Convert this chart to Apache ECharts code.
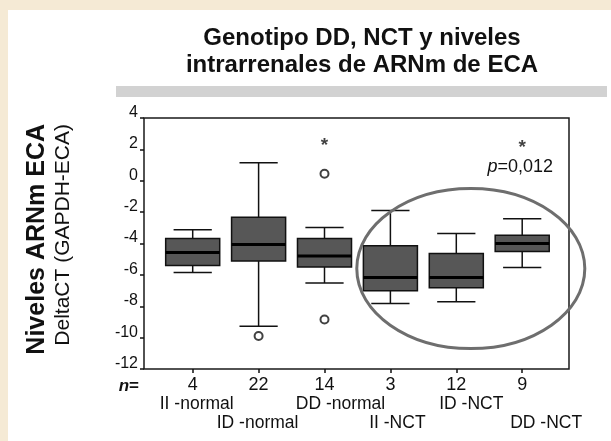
<!DOCTYPE html>
<html>
<head>
<meta charset="utf-8">
<script src="https://cdn.jsdelivr.net/npm/echarts@6/dist/echarts.min.js"></script>
<style>
html, body { margin: 0; padding: 0; background: #f5ead5; }
#chart { width: 611px; height: 441px; }
</style>
</head>
<body>
<div id="chart"></div>
<script>
// datos
var categories = ['II -normal', 'ID -normal', 'DD -normal', 'II -NCT', 'ID -NCT', 'DD -NCT'];
var counts = [4, 22, 14, 3, 12, 9];
var whiskerLow = [-5.85, -9.27, -6.52, -7.82, -7.71, -5.53];
var q1 = [-5.41, -5.12, -5.5, -7.01, -6.82, -4.51];
var medians = [-4.57, -4.06, -4.8, -6.16, -6.16, -4.0];
var q3 = [-3.68, -2.32, -3.68, -4.14, -4.63, -3.47];
var whiskerHigh = [-3.12, 1.15, -2.98, -1.89, -3.36, -2.42];
var outliers = [[1, -9.9], [2, 0.45], [2, -8.84]];
var extremes = [[2, 2.56], [5, 2.44]];
var yMin = -12, yMax = 4, yStep = 2;
var pText = '=0,012';

var font = "'Liberation Sans', Arial, Helvetica, sans-serif";
// desplazamiento horizontal de cada nombre de grupo (px)
var nameShift = [4, -1, 16, 7, 15, 24];

var chart = echarts.init(document.getElementById('chart'));

var rich = {
	n: { fontSize: 18, lineHeight: 19, color: '#111', fontFamily: font },
	e: { fontSize: 17, lineHeight: 19, fontFamily: font }
};
nameShift.forEach(function (s, i) {
	rich['c' + i] = {
		fontSize: 17.5, lineHeight: 19, color: '#111', fontFamily: font,
		padding: s >= 0 ? [0, 0, 0, 2 * s] : [0, -2 * s, 0, 0]
	};
});

var boxData = categories.map(function (c, i) {
	return [i, whiskerLow[i], q1[i], medians[i], q3[i], whiskerHigh[i]];
});

function renderBox(params, api) {
	var i = api.value(0);
	var lo = api.coord([i, api.value(1)]);
	var b = api.coord([i, api.value(2)]);
	var m = api.coord([i, api.value(3)]);
	var t = api.coord([i, api.value(4)]);
	var hi = api.coord([i, api.value(5)]);
	var band = api.size([1, 0])[0];
	var bw = band * 0.82, cw = band * 0.58;
	var x = lo[0];
	var ls = { stroke: '#111', lineWidth: 1.5 };
	return {
		type: 'group',
		children: [
			{ type: 'line', shape: { x1: x, y1: hi[1], x2: x, y2: t[1] }, style: ls },
			{ type: 'line', shape: { x1: x, y1: b[1], x2: x, y2: lo[1] }, style: ls },
			{ type: 'line', shape: { x1: x - cw / 2, y1: hi[1], x2: x + cw / 2, y2: hi[1] }, style: ls },
			{ type: 'line', shape: { x1: x - cw / 2, y1: lo[1], x2: x + cw / 2, y2: lo[1] }, style: ls },
			{ type: 'rect', shape: { x: x - bw / 2, y: t[1], width: bw, height: b[1] - t[1] },
				style: { fill: '#575757', stroke: '#111', lineWidth: 1.5 } },
			{ type: 'line', shape: { x1: x - bw / 2, y1: m[1], x2: x + bw / 2, y2: m[1] },
				style: { stroke: '#000', lineWidth: 3 } }
		]
	};
}

var option = {
	backgroundColor: '#f5ead5',
	animation: false,
	textStyle: { fontFamily: font },
	grid: [{
		left: 144, top: 118, width: 425, height: 251,
		show: true, borderColor: '#1a1a1a', borderWidth: 1.5, backgroundColor: 'transparent'
	}, {
		left: 159.75, top: 118, width: 395.4, height: 251
	}],
	xAxis: [{
		gridIndex: 0, type: 'value', min: 0, max: 1, show: false
	}, {
		gridIndex: 1, type: 'category', data: categories,
		boundaryGap: true,
		axisLine: { show: false, onZero: false },
		axisTick: { show: true, alignWithLabel: true, length: 4, lineStyle: { color: '#111', width: 1.5 } },
		axisLabel: {
			interval: 0, margin: 7,
			formatter: function (v, i) {
				var name = '{c' + i + '|' + v + '}';
				return '{n|' + counts[i] + '}\n' + (i % 2 === 0 ? name + '\n{e| }' : '{e| }\n' + name);
			},
			rich: rich
		},
		splitLine: { show: false }
	}],
	yAxis: [{
		gridIndex: 0, type: 'value', min: yMin, max: yMax, interval: yStep,
		axisLine: { show: false },
		axisTick: { show: true, inside: false, length: 4, lineStyle: { color: '#111', width: 1.5 } },
		axisLabel: { color: '#111', fontSize: 16, margin: 6, verticalAlign: 'bottom', lineHeight: 11, fontFamily: font },
		splitLine: { show: false }
	}, {
		gridIndex: 1, type: 'value', min: yMin, max: yMax, interval: yStep, show: false,
		splitLine: { show: false }
	}],
	series: [{
		type: 'custom',
		name: 'DeltaCT',
		xAxisIndex: 1, yAxisIndex: 1,
		renderItem: renderBox,
		encode: { x: 0, y: [1, 2, 3, 4, 5] },
		data: boxData,
		z: 3
	}, {
		type: 'scatter',
		name: 'outliers',
		xAxisIndex: 1, yAxisIndex: 1,
		symbol: 'circle', symbolSize: 8,
		itemStyle: { color: '#fff', borderColor: '#111', borderWidth: 2 },
		data: outliers,
		z: 4
	}, {
		type: 'scatter',
		name: 'extremos',
		xAxisIndex: 1, yAxisIndex: 1,
		symbol: 'circle', symbolSize: 2,
		itemStyle: { color: 'rgba(0,0,0,0)' },
		label: {
			show: true, position: 'inside', formatter: '*', offset: [0, 5],
			fontSize: 19, fontWeight: 'bold', color: '#111', fontFamily: font
		},
		data: extremes,
		z: 4
	}],
	graphic: [{
		id: 'panel', type: 'rect', z: -10, silent: true,
		shape: { x: 8, y: 10, width: 603, height: 431 },
		style: { fill: '#ffffff' }
	}, {
		id: 'band', type: 'rect', z: -5, silent: true,
		shape: { x: 116, y: 86, width: 491, height: 11 },
		style: { fill: '#d2d2d2' }
	}, {
		id: 'title', type: 'text', z: 5,
		x: 362, y: 25,
		style: {
			text: 'Genotipo DD, NCT y niveles\nintrarrenales de ARNm de ECA',
			font: 'bold 24px ' + font, lineHeight: 27,
			fill: '#111', textAlign: 'center', textVerticalAlign: 'top'
		}
	}, {
		id: 'ytitle1', type: 'text', z: 5,
		x: 37, y: 124, rotation: Math.PI / 2,
		style: {
			text: 'Niveles ARNm ECA', font: 'bold 25px ' + font,
			fill: '#111', textAlign: 'right', textVerticalAlign: 'middle'
		}
	}, {
		id: 'ytitle2', type: 'text', z: 5,
		x: 63, y: 124, rotation: Math.PI / 2,
		style: {
			text: 'DeltaCT (GAPDH-ECA)', font: '21px ' + font,
			fill: '#111', textAlign: 'right', textVerticalAlign: 'middle'
		}
	}, {
		id: 'nlabel', type: 'text', z: 5,
		x: 139, y: 386,
		style: {
			text: '{i|n}{t|=}',
			rich: {
				i: { font: 'italic bold 17px ' + font, fill: '#111' },
				t: { font: 'bold 17px ' + font, fill: '#111' }
			},
			textAlign: 'right', textVerticalAlign: 'middle'
		}
	}]
};

chart.setOption(option);

// elipse que agrupa los grupos NCT y texto del valor p
var p4 = chart.convertToPixel({ gridIndex: 1 }, [4, -5.6]);
var p5 = chart.convertToPixel({ gridIndex: 1 }, [5, 0.9]);
var band = p5[0] - p4[0];
var unit = chart.convertToPixel({ gridIndex: 1 }, [0, 0])[1] - chart.convertToPixel({ gridIndex: 1 }, [0, 1])[1];

chart.setOption({
	graphic: [{
		id: 'ellipse', type: 'ellipse', z: 6, silent: true,
		shape: { cx: p4[0] + band * 0.22, cy: p4[1], rx: band * 1.73, ry: unit * 5.1 },
		style: { fill: 'none', stroke: '#6e6e6e', lineWidth: 3 }
	}, {
		id: 'pvalue', type: 'text', z: 6,
		x: p5[0] - 2, y: p5[1],
		style: {
			text: '{i|p}{t|' + pText + '}',
			rich: {
				i: { font: 'italic 18px ' + font, fill: '#111' },
				t: { font: '18px ' + font, fill: '#111' }
			},
			textAlign: 'center', textVerticalAlign: 'middle'
		}
	}]
});
</script>
</body>
</html>
